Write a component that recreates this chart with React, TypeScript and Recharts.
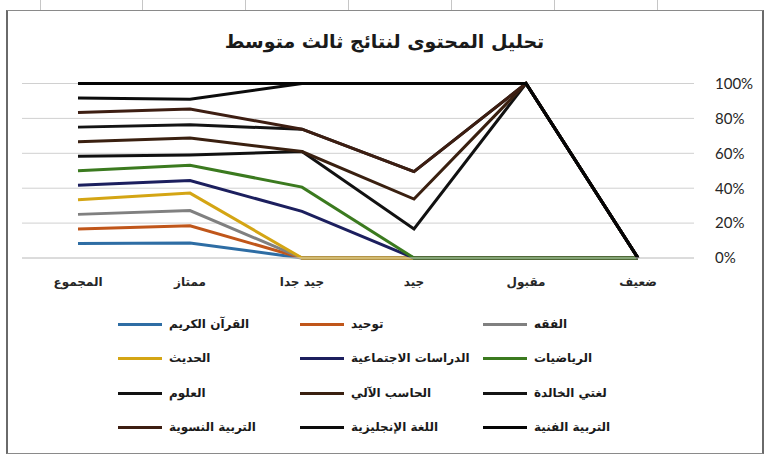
import React from 'react';
import { AreaChart, Area, XAxis, YAxis, CartesianGrid } from 'recharts';

// categories as stored (Excel draws them right-to-left, so the axis is reversed)
const categories = ['ضعيف', 'مقبول', 'جيد', 'جيد جدا', 'ممتاز', 'المجموع'];

// share of each subject per grade (100% stacked)
const quran = [0, 0, 0, 0, 8.6, 8.33];
const tawheed = [0, 0, 0, 0, 9.9, 8.33];
const fiqh = [0, 0, 0, 0, 8.7, 8.33];
const hadith = [0, 0, 0, 0, 10.0, 8.33];
const social = [0, 0, 0, 26.7, 7.2, 8.33];
const maths = [0, 0, 0, 13.9, 8.8, 8.33];
const science = [0, 100, 16.6, 20.4, 5.8, 8.33];
const computer = [0, 0, 17.2, 0, 9.7, 8.33];
const arabic = [0, 0, 15.7, 12.8, 7.6, 8.33];
const family = [0, 0, 0, 0, 9.1, 8.33];
const english = [0, 0, 50.5, 26.2, 5.6, 8.33];
const art = [0, 0, 0, 0, 9.0, 8.33];

const seriesNames = [
  'القرآن الكريم', 'توحيد', 'الفقه',
  'الحديث', 'الدراسات الاجتماعية', 'الرياضيات',
  'العلوم', 'الحاسب الآلي', 'لغتي الخالدة',
  'التربية النسوية', 'اللغة الإنجليزية', 'التربية الفنية'
];
const seriesValues = [quran, tawheed, fiqh, hadith, social, maths, science, computer, arabic, family, english, art];
const seriesColors = [
  '#2e6da4', '#c0561a', '#808080',
  '#d4a514', '#1c1f5e', '#3b7a1f',
  '#111111', '#3a2010', '#141414',
  '#3d1e12', '#0c0c0c', '#050505'
];

const yTicks = [0, 0.2, 0.4, 0.6, 0.8, 1];

const data = categories.map((name, i) => {
  const row: any = { name };
  seriesValues.forEach((vals, s) => {
    row['s' + s] = vals[i];
  });
  return row;
});

const arabicFont = '"DejaVu Sans", sans-serif';

export default function App() {
  return <div style={{ position: 'absolute', left: 0, top: 0, width: 769, height: 454, background: '#ffffff', overflow: 'hidden' }}>
      {/* spreadsheet cells behind the chart */}
      {[40, 142, 245, 348, 451, 554, 657].map(x => <div key={x} style={{ position: 'absolute', left: x, top: 0, width: 1, height: 10, background: '#c6c6c6' }} />)}
      <div style={{ position: 'absolute', left: 6, top: 10, width: 754, height: 442, border: '1px solid #8a8a8a', borderLeft: '2px solid #6a6a6a', borderRight: '2px solid #6a6a6a', background: '#ffffff' }} />

      <div style={{ position: 'absolute', left: 0, top: 30, width: 769, textAlign: 'center', fontFamily: arabicFont, fontWeight: 'bold', fontSize: 19, color: '#1a1a1a', direction: 'rtl' }}>
        تحليل المحتوى لنتائج ثالث متوسط
      </div>

      <div style={{ position: 'absolute', left: 0, top: 0 }}>
        <AreaChart width={769} height={310} data={data} stackOffset="expand" margin={{
        top: 83.5,
        right: 10,
        left: 22,
        bottom: 22
      }}>
          <CartesianGrid vertical={false} stroke="#d0d0d0" />
          <XAxis dataKey="name" reversed padding={{ left: 56, right: 56 }} height={30} tickLine={false} tickSize={0} tickMargin={19} axisLine={{ stroke: '#d0d0d0' }} tick={{ fill: '#262626', fontSize: 12, fontWeight: 'bold', fontFamily: arabicFont }} />
          <YAxis orientation="right" width={65} domain={[0, 1]} ticks={yTicks} tickFormatter={v => `${Math.round(v * 100)}%`} tickLine={false} tickSize={0} tickMargin={21} axisLine={false} tick={{ fill: '#262626', fontSize: 15, fontFamily: 'Lato, sans-serif', textAnchor: 'start' }} />
          {seriesNames.map((n, s) => <Area key={n} type="linear" dataKey={'s' + s} name={n} stackId="1" stroke={seriesColors[s]} strokeWidth={3} fill="none" dot={false} activeDot={false} isAnimationActive={false} />)}
        </AreaChart>
      </div>

      {/* legend */}
      {seriesNames.map((n, s) => {
      const col = s % 3;
      const row = Math.floor(s / 3);
      const lx = [118, 300, 483][col];
      const ly = [324, 358, 393, 427][row];
      return <div key={n} style={{ position: 'absolute', left: lx, top: ly - 10, height: 20, display: 'flex', alignItems: 'center' }}>
            <div style={{ width: 44, height: 3, background: seriesColors[s] }} />
            <span style={{ marginLeft: 7, fontFamily: arabicFont, fontSize: 12, fontWeight: 'bold', color: '#1a1a1a', direction: 'rtl', whiteSpace: 'nowrap' }}>{n}</span>
          </div>;
    })}
    </div>;
}
